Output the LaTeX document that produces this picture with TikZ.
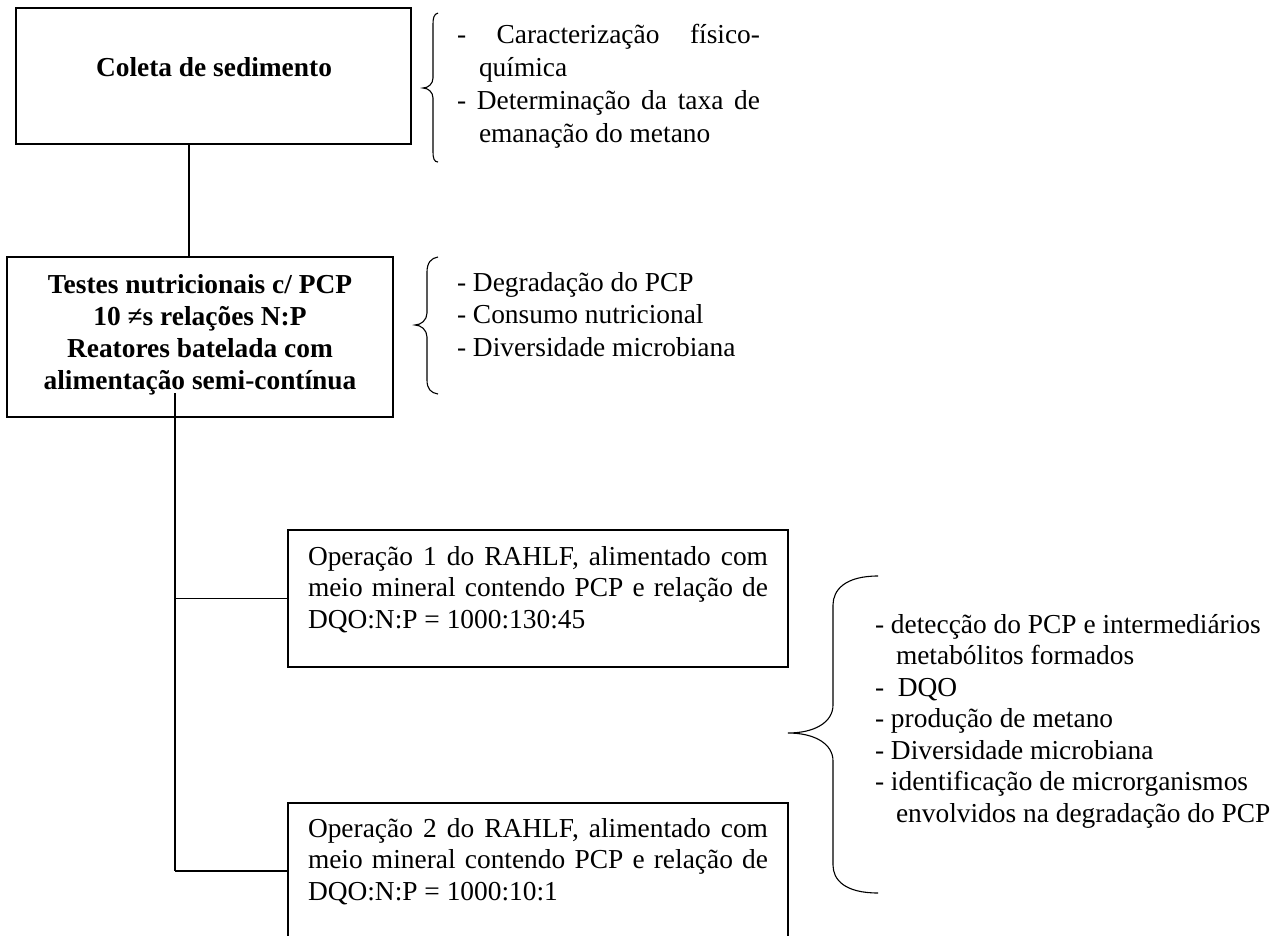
\documentclass[tikz,border=0pt]{standalone}
\usepackage{fontspec}
\setmainfont{Liberation Serif}
\begin{document}
\begin{tikzpicture}[x=1pt,y=-1pt,
  every node/.style={inner sep=0pt, outer sep=0pt, font=\fontsize{27.4}{31.5}\selectfont},
  box/.style={draw, line width=1.5pt, inner sep=0pt},
  txt/.style={anchor=base west},
  btxt/.style={anchor=base, font=\fontsize{27.4}{32}\selectfont\bfseries},
  conn/.style={line width=1.1pt},
  brace/.style={line width=1.1pt}]
\useasboundingbox (0,0) rectangle (1288,935);
\clip (0,0) rectangle (1288,935);

% boxes
\node[box, minimum width=395pt, minimum height=136pt] (box1) at (213.5,76) {};
\node[box, minimum width=386pt, minimum height=160pt] (box2) at (200,337) {};
\node[box, minimum width=500pt, minimum height=137pt] (box3) at (538,598.5) {};
\node[box, minimum width=500pt, minimum height=157pt] (box4) at (538,881.5) {};

% box texts
\node[btxt] (b1) at (214,76) {Coleta de sedimento};
\node[btxt] (b2a) at (200,293) {Testes nutricionais c/ PCP};
\node[btxt] (b2b) at (200,325) {10 ≠s relações N:P};
\node[btxt] (b2c) at (200,357) {Reatores batelada com};
\node[btxt] (b2d) at (200,389) {alimentação semi-contínua};

\node[txt] (b3a) at (308,565) {\makebox[460pt][s]{Operação 1 do RAHLF, alimentado com}};
\node[txt] (b3b) at (308,596.5) {\makebox[460pt][s]{meio mineral contendo PCP e relação de}};
\node[txt] (b3c) at (308,628) {DQO:N:P = 1000:130:45};

\node[txt] (b4a) at (308,837) {\makebox[460pt][s]{Operação 2 do RAHLF, alimentado com}};
\node[txt] (b4b) at (308,868.5) {\makebox[460pt][s]{meio mineral contendo PCP e relação de}};
\node[txt] (b4c) at (308,900) {DQO:N:P = 1000:10:1};

% list 1
\node[txt] (l1a) at (457,43) {\makebox[303pt][s]{- Caracterização físico-}};
\node[txt] (l1b) at (479,76) {química};
\node[txt] (l1c) at (457,109) {\makebox[303pt][s]{- Determinação da taxa de}};
\node[txt] (l1d) at (479,142) {emanação do metano};

% list 2
\node[txt] (l2a) at (457,291) {- Degradação do PCP};
\node[txt] (l2b) at (457,323.5) {- Consumo nutricional};
\node[txt] (l2c) at (457,356) {- Diversidade microbiana};

% list 3
\node[txt] (l3a) at (875,633) {- detecção do PCP e intermediários};
\node[txt] (l3b) at (896,664.5) {metabólitos formados};
\node[txt] (l3c) at (875,696) {-\ \ DQO};
\node[txt] (l3d) at (875,727.5) {- produção de metano};
\node[txt] (l3e) at (875,759) {- Diversidade microbiana};
\node[txt] (l3f) at (875,790.5) {- identificação de microrganismos};
\node[txt] (l3g) at (896,822) {envolvidos na degradação do PCP};

% connectors
\coordinate (c1) at (189,0);
\draw[conn] (box1.south -| c1) -- (box2.north -| c1);
\coordinate (tA) at (175,393);
\coordinate (tB) at (175,871);
\draw[conn] (tA) -- (tB);
\draw[conn] (box3.west -| tA) -- (box3.west);
\draw[conn] (tB) -- (tB -| box4.west);

% braces
\draw[brace] (438,13) .. controls (434,14) and (433,18) .. (433,24) -- (433,78)
  .. controls (433,84) and (428,88) .. (423,88)
  .. controls (428,88) and (433,92) .. (433,98) -- (433,152)
  .. controls (433,158) and (434,162) .. (438,162);
\draw[brace] (438,257) .. controls (431,258) and (427,263) .. (427,272) -- (427,313)
  .. controls (427,320) and (421,325) .. (415,325)
  .. controls (421,325) and (427,330) .. (427,337) -- (427,380)
  .. controls (427,389) and (431,393) .. (438,394);
\draw[brace] (878,576) .. controls (845,576) and (833,590) .. (833,605) -- (833,705)
  .. controls (833,722) and (815,733) .. (788,733)
  .. controls (815,733) and (833,744) .. (833,761) -- (833,865)
  .. controls (833,880) and (845,893) .. (878,893);
\end{tikzpicture}
\end{document}
